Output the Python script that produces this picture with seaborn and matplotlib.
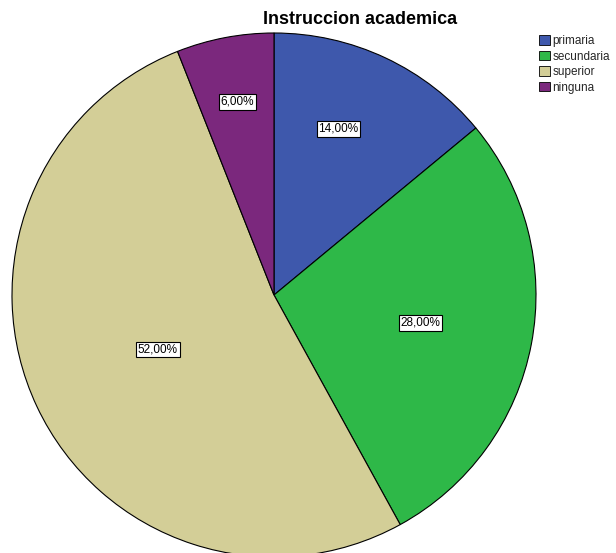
import matplotlib
matplotlib.use("Agg")
import matplotlib.pyplot as plt
import seaborn as sns
import numpy as np

categories = ["primaria", "secundaria", "superior", "ninguna"]
percent = [14.0, 28.0, 52.0, 6.0]
colors = ["#3E58AC", "#2EB848", "#D3CE97", "#7B287D"]
label_dist = [0.68, 0.57, 0.49, 0.75]
label_shift = [4.0, 0.0, 0.0, 0.0]  # degrees, counterclockwise nudge

sns.set_theme(style="white")
plt.rcParams['font.family'] = ['Liberation Sans', 'DejaVu Sans']

fig = plt.figure(figsize=(6.16, 5.53), dpi=100)
ax = fig.add_axes([0, 0, 1, 1])

R = 262.0
cx, cy = 274.0, 295.0
wedges, _ = ax.pie(percent, colors=colors, startangle=90, counterclock=False,
                   radius=1.0, wedgeprops=dict(edgecolor="black", linewidth=0.8))

for w, p, d, s in zip(wedges, percent, label_dist, label_shift):
    mid = np.deg2rad((w.theta1 + w.theta2) / 2 + s)
    txt = f"{p:.2f}%".replace(".", ",")
    ax.text(d * np.cos(mid), d * np.sin(mid), txt, ha="center", va="center",
            fontsize=8.5, color="black",
            bbox=dict(boxstyle="square,pad=0.15", fc="white", ec="black", lw=0.8))

ax.set_xlim(-cx / R, (616 - cx) / R)
ax.set_ylim(-(553 - cy) / R, cy / R)
ax.set_aspect("equal")
ax.axis("off")

fig.text(360 / 616, 1 - 19 / 553, "Instruccion academica", ha="center", va="center",
         fontsize=13, fontweight="bold", color="black")

leg = ax.legend(wedges, categories, loc="upper left", bbox_to_anchor=(539 / 616, 1 - 35 / 553),
                bbox_transform=fig.transFigure, frameon=False, fontsize=8.5,
                handlelength=0.9, handleheight=0.9, handletextpad=0.25,
                labelspacing=0.3, borderpad=0, borderaxespad=0)
for h in leg.legend_handles:
    h.set_edgecolor("black")
    h.set_linewidth(0.6)

fig.savefig("out.png", dpi=100)
